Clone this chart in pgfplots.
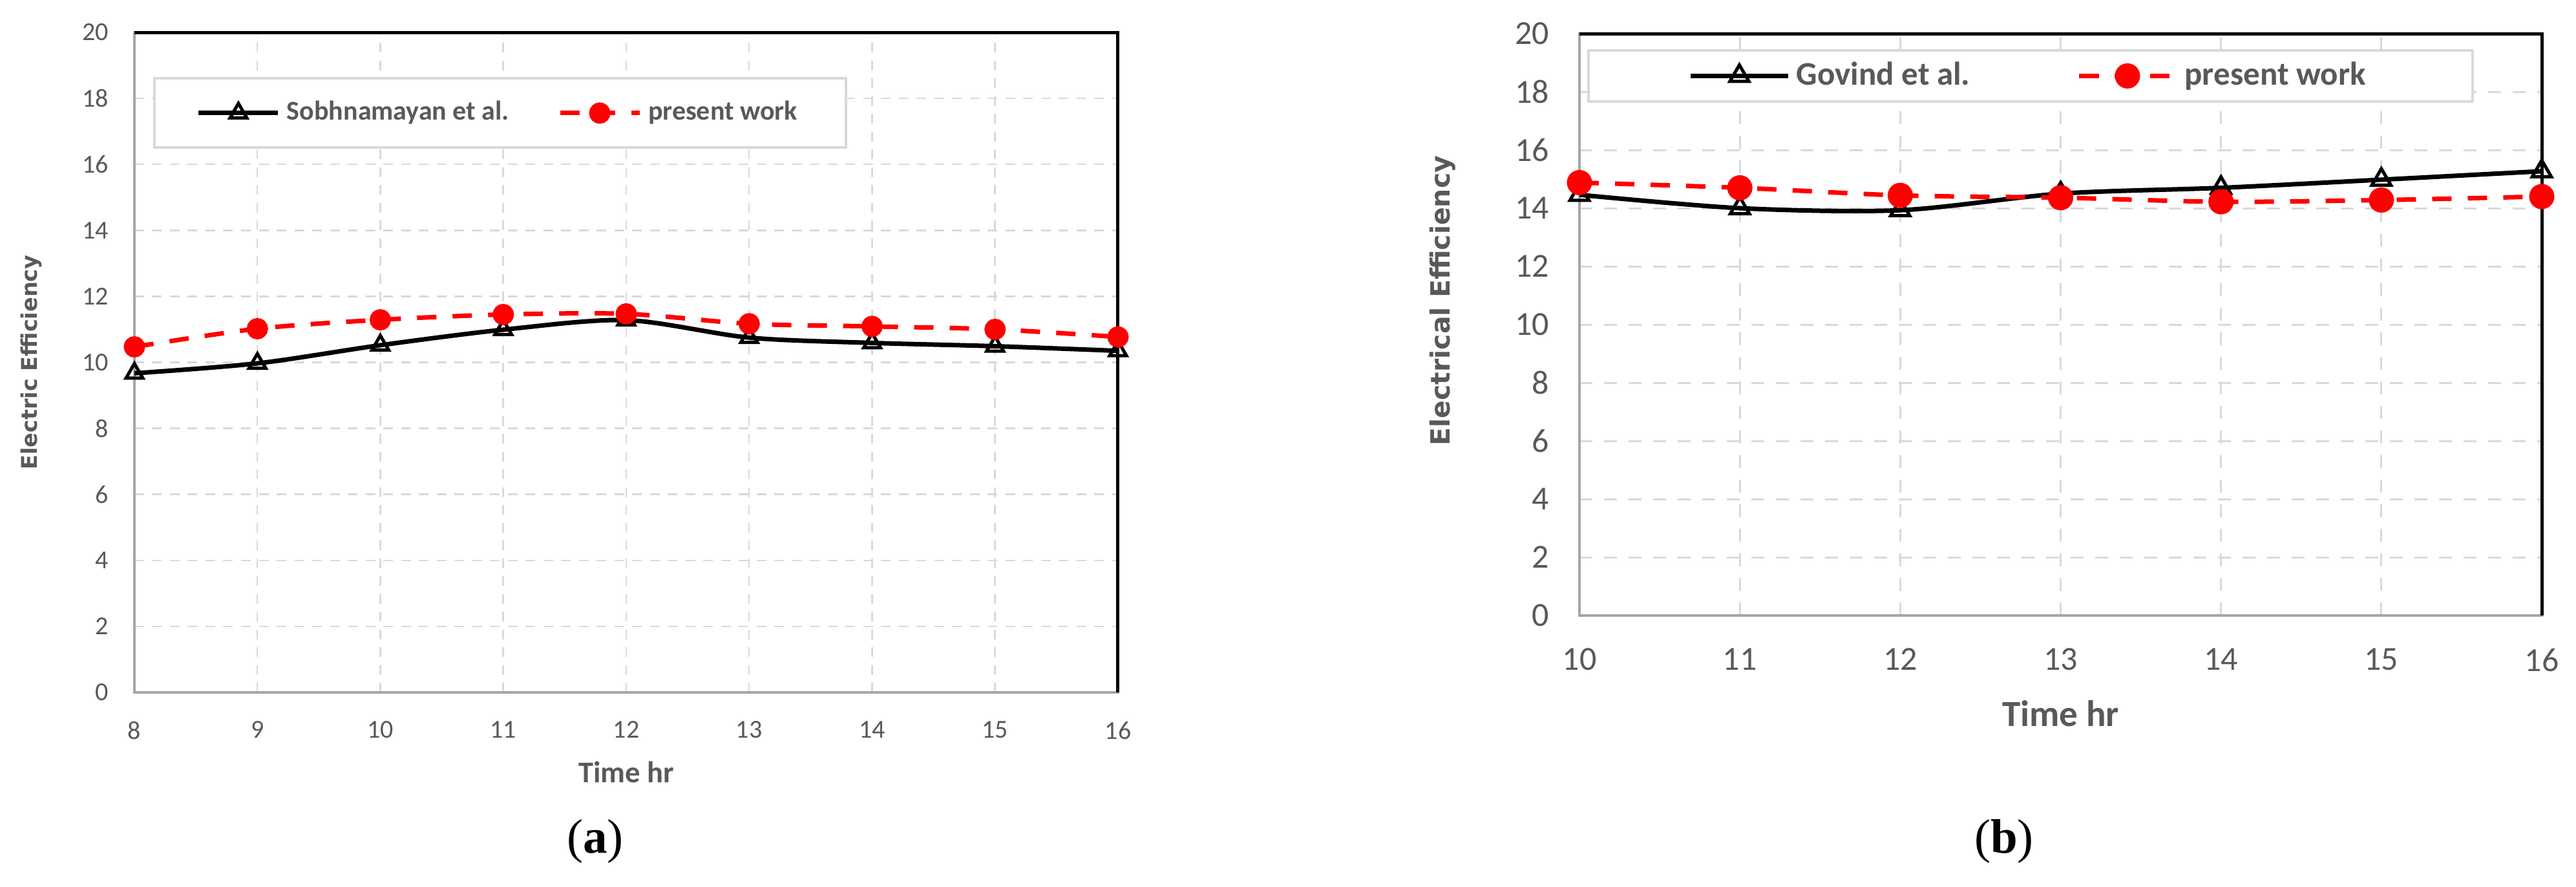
\documentclass[border=0pt]{standalone}
\usepackage{fontspec}
\setmainfont{Carlito}
\newfontfamily\labfont{DejaVu Sans}
\newfontfamily\capfont{Liberation Serif}
\usepackage{pgfplots}
\pgfplotsset{compat=1.18}

\definecolor{txtgray}{HTML}{595959}
\definecolor{gridgray}{HTML}{D9D9D9}
\definecolor{axgray}{HTML}{A6A6A6}

\pgfplotsset{
  effaxis/.style={
    scale only axis, anchor=south west, clip=false,
    ymin=0, ymax=20, ytick={0,2,...,20},
    grid=major, major tick length=0pt,
    axis line style={axgray, line width=0.7pt},
    /pgf/number format/assume math mode=true,
    tick label style={text=txtgray},
    yticklabel style={inner sep=0pt, anchor=east},
    xticklabel style={inner sep=0pt, anchor=north},
    legend columns=2,
    legend cell align=left,
  },
  ref/.style={black, line width=1.4pt, smooth, mark=triangle,
    mark options={solid, fill=white, draw=black, line width=1pt}},
  pw/.style={red, line width=1.4pt, dash pattern=on 6pt off 5pt, smooth, mark=*,
    mark options={solid, fill=red, draw=red}},
}

\begin{document}
\begin{tikzpicture}
\useasboundingbox (0,0) rectangle (797.2pt,274.2pt);

% (a)
\begin{axis}[effaxis,
  at={(41.6pt,60pt)}, width=304.4pt, height=204.2pt,
  xmin=8, xmax=16, xtick={8,...,16},
  major grid style={gridgray, line width=0.5pt, dash pattern=on 3pt off 2.5pt},
  tick label style={font=\fontsize{8}{9}\selectfont},
  yticklabel style={xshift=-7.8pt},
  xticklabel style={yshift=-8.8pt},
  xlabel={\bfseries Time hr},
  xlabel style={font=\fontsize{9.3}{11}\selectfont, text=txtgray, at={(axis description cs:0.5,-0.1205)}, anchor=center},
  ylabel={\labfont\bfseries Electric Efficiency},
  ylabel style={font=\fontsize{6.7}{8}\selectfont, text=txtgray, at={(axis description cs:-0.105,0.5)}, anchor=center, rotate=0},
  legend image code/.code={\draw[mark repeat=2,mark phase=2] plot coordinates {(0pt,0pt) (12.3pt,0pt) (24.6pt,0pt)};},
  legend style={at={(rel axis cs:0.019,0.932)}, anchor=north west,
    draw=gridgray, line width=0.8pt, fill=white, text=txtgray,
    font=\bfseries\fontsize{8.4}{10}\selectfont,
    inner xsep=13pt, inner ysep=5pt,
    /tikz/every even column/.append style={column sep=13pt}},
]
\draw[black, line width=1pt] (rel axis cs:0,1) -- (rel axis cs:1,1) -- (rel axis cs:1,0);
\addplot[ref, mark size=3pt] coordinates {
  (8,9.67) (9,9.97) (10,10.52) (11,10.99) (12,11.28) (13,10.75) (14,10.59) (15,10.49) (16,10.35)
};
\addlegendentry{Sobhnamayan et al.}
\addplot[pw, mark size=2.6pt] coordinates {
  (8,10.47) (9,11.02) (10,11.29) (11,11.45) (12,11.47) (13,11.17) (14,11.09) (15,11.0) (16,10.77)
};
\addlegendentry{present work}
\end{axis}

% (b)
\begin{axis}[effaxis,
  at={(488.8pt,83.8pt)}, width=297.8pt, height=180pt,
  xmin=10, xmax=16, xtick={10,...,16},
  major grid style={gridgray, line width=0.6pt, dash pattern=on 4pt off 3.6pt},
  tick label style={font=\fontsize{10.4}{12}\selectfont},
  yticklabel style={xshift=-9.2pt},
  xticklabel style={yshift=-10pt},
  xlabel={\bfseries Time hr},
  xlabel style={font=\fontsize{11.4}{13}\selectfont, text=txtgray, at={(axis description cs:0.5,-0.169)}, anchor=center},
  ylabel={\labfont\bfseries Electrical Efficiency},
  ylabel style={font=\fontsize{8.2}{10}\selectfont, text=txtgray, at={(axis description cs:-0.1424,0.541)}, anchor=center, rotate=0},
  legend image code/.code={\draw[mark repeat=2,mark phase=2] plot coordinates {(0pt,0pt) (15pt,0pt) (30pt,0pt)};},
  legend style={at={(rel axis cs:0.008,0.973)}, anchor=north west,
    draw=gridgray, line width=0.8pt, fill=white, text=txtgray,
    font=\bfseries\fontsize{10.2}{12}\selectfont,
    inner xsep=31pt, inner ysep=1.5pt,
    /tikz/every even column/.append style={column sep=31pt}},
]
\draw[black, line width=1pt] (rel axis cs:0,1) -- (rel axis cs:1,1) -- (rel axis cs:1,0);
\addplot[ref, mark size=3.4pt] coordinates {
  (10,14.46) (11,14.0) (12,13.93) (13,14.5) (14,14.7) (15,14.98) (16,15.27)
};
\addlegendentry{Govind et al.}
\addplot[pw, mark size=3.2pt] coordinates {
  (10,14.88) (11,14.7) (12,14.44) (13,14.36) (14,14.22) (15,14.28) (16,14.4)
};
\addlegendentry{present work}
\end{axis}

\node[font=\capfont\fontsize{15}{17}\selectfont] at (184.2pt,14pt) {(\textbf{a})};
\node[font=\capfont\fontsize{15}{17}\selectfont] at (620.2pt,14pt) {(\textbf{b})};
\end{tikzpicture}
\end{document}
